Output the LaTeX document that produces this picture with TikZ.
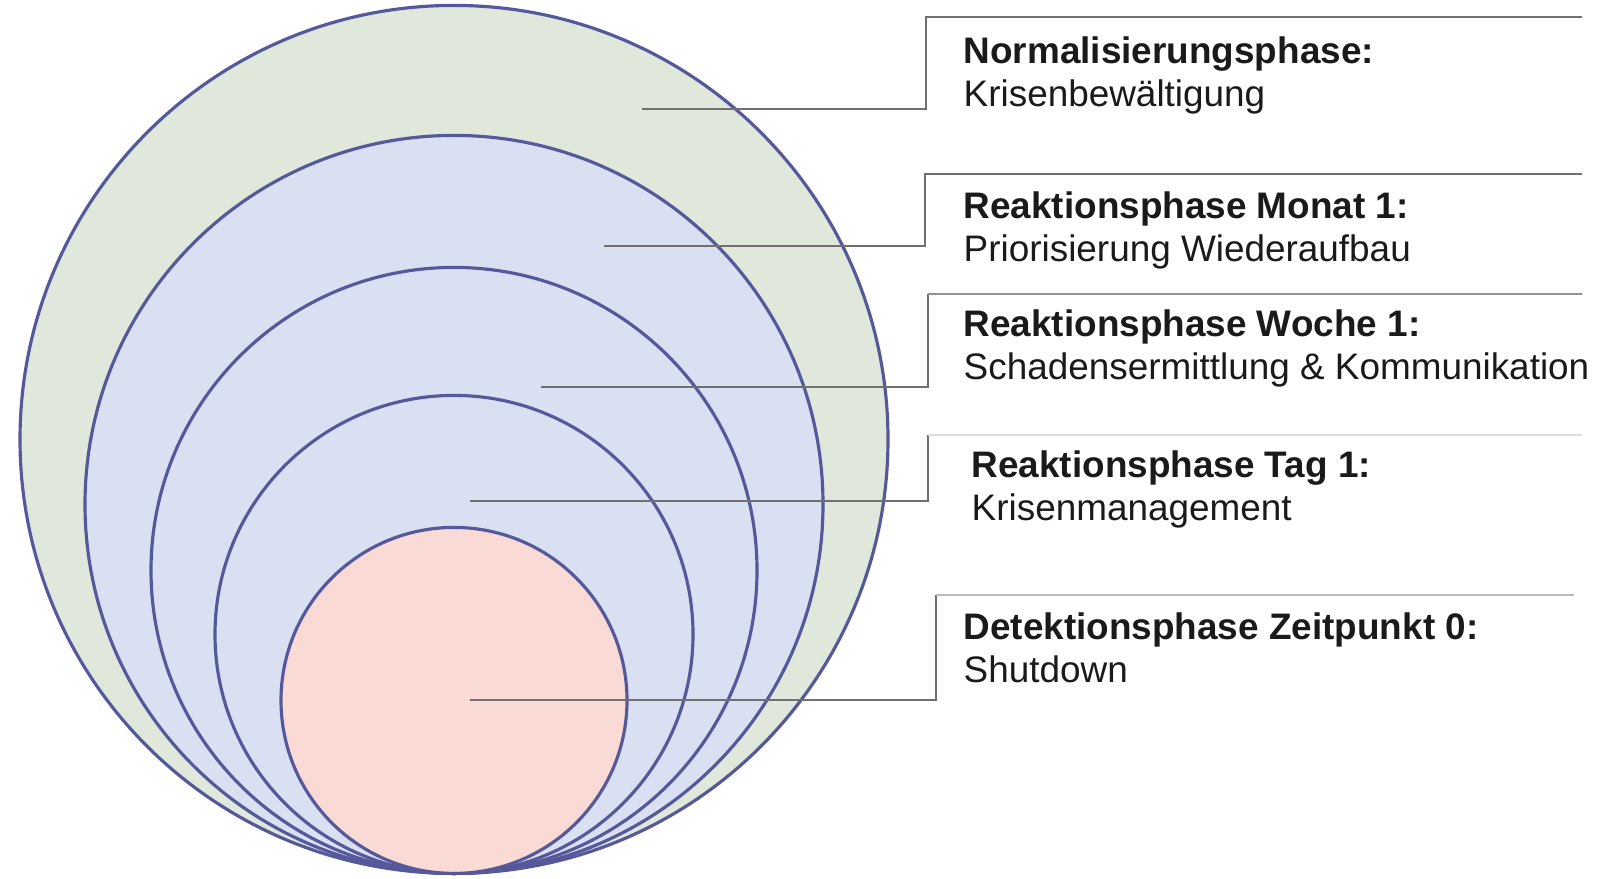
\documentclass[tikz,border=0pt]{standalone}
\usepackage{fontspec}
\setmainfont{Liberation Sans}
\usepackage{tikz}
\usetikzlibrary{shapes,arrows}
\definecolor{normgreen}{HTML}{DFE8DB}
\definecolor{reactblue}{HTML}{D9E0F2}
\definecolor{detectpink}{HTML}{F9DAD4}
\definecolor{ringblue}{HTML}{55589B}
\definecolor{leadgray}{HTML}{707070}
\definecolor{leadmid}{HTML}{929292}
\definecolor{leadsoft}{HTML}{BBBBBB}
\definecolor{leadlight}{HTML}{DCDCDC}
\definecolor{textgray}{HTML}{1A1A1A}
\tikzstyle{ring} = [circle, draw=ringblue, line width=0.9pt, anchor=south, inner sep=0pt]
\tikzstyle{phase} = [anchor=north west, align=left, inner sep=0pt, text=textgray, font=\fontsize{10.5pt}{12.2pt}\selectfont]
\tikzstyle{line} = [draw, leadgray, line width=0.6pt]

\begin{document}
\begin{tikzpicture}
      \useasboundingbox (0,0) rectangle (16.06,-8.78);
      \coordinate (base) at (4.54,-8.75);

      % nested phases, all touching at the bottom
      \node [ring, fill=normgreen, minimum size=8.68cm] (normal) at (base) {};
      \node [ring, fill=reactblue, minimum size=7.38cm] (month) at (base) {};
      \node [ring, fill=reactblue, minimum size=6.06cm] (week) at (base) {};
      \node [ring, fill=reactblue, minimum size=4.78cm] (day) at (base) {};
      \node [ring, fill=detectpink, minimum size=3.46cm] (zero) at (base) {};

      \node [phase] (normal_txt) at (9.63,-0.362) {\textbf{Normalisierungsphase:}\\Krisenbewältigung};
      \node [phase] (month_txt) at (9.63,-1.915) {\textbf{Reaktionsphase Monat 1:}\\Priorisierung Wiederaufbau};
      \node [phase] (week_txt) at (9.63,-3.095) {\textbf{Reaktionsphase Woche 1:}\\Schadensermittlung \& Kommunikation};
      \node [phase] (day_txt) at (9.71,-4.505) {\textbf{Reaktionsphase Tag 1:}\\Krisenmanagement};
      \node [phase] (zero_txt) at (9.63,-6.125) {\textbf{Detektionsphase Zeitpunkt 0:}\\Shutdown};

      \coordinate (normal_pin) at (6.42,-1.09);
      \coordinate (normal_top) at (9.26,-0.173);
      \coordinate (normal_end) at (15.82,-0.173);
      \coordinate (month_pin) at (6.04,-2.46);
      \coordinate (month_top) at (9.25,-1.74);
      \coordinate (month_end) at (15.82,-1.74);
      \coordinate (week_pin) at (5.41,-3.87);
      \coordinate (week_top) at (9.28,-2.94);
      \coordinate (week_end) at (15.82,-2.94);
      \coordinate (day_pin) at (4.70,-5.01);
      \coordinate (day_top) at (9.28,-4.35);
      \coordinate (day_end) at (15.82,-4.35);
      \coordinate (zero_pin) at (4.70,-7.00);
      \coordinate (zero_top) at (9.36,-5.95);
      \coordinate (zero_end) at (15.74,-5.95);

      \path [line] (normal_pin) -| (normal_top) -- (normal_end);
      \path [line] (month_pin) -| (month_top) -- (month_end);
      \path [line] (week_pin) -| (week_top);
      \path [line, leadmid] (week_top) -- (week_end);
      \path [line] (day_pin) -| (day_top);
      \path [line, leadlight] (day_top) -- (day_end);
      \path [line] (zero_pin) -| (zero_top);
      \path [line, leadsoft] (zero_top) -- (zero_end);
    \end{tikzpicture}
\end{document}
